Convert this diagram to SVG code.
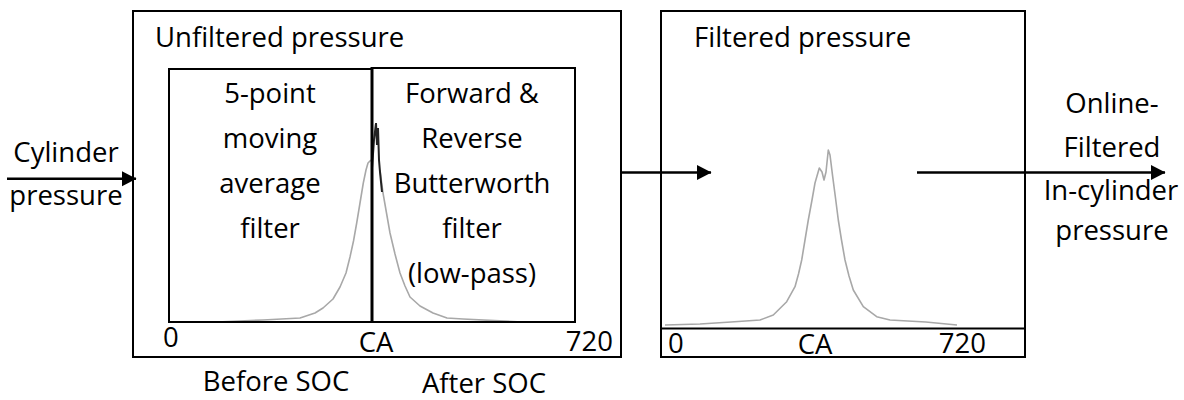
<svg xmlns="http://www.w3.org/2000/svg" width="1184" height="400" viewBox="0 0 1184 400">
<style>
text{font-family:"Open Sans","Liberation Sans",sans-serif;font-size:27.5px;fill:#000}
.c{text-anchor:middle}
.box{fill:none;stroke:#000;stroke-width:2}
.curve{fill:none;stroke:#a8a8a8;stroke-width:1.6;stroke-linejoin:round}
.arr{stroke:#000;stroke-width:2.5;fill:none}
</style>
<defs>
<marker id="ah" markerUnits="userSpaceOnUse" markerWidth="16" markerHeight="16" refX="14" refY="8" orient="auto"><path d="M0,0.5 L14.5,8 L0,15.5 Z" fill="#000"/></marker>
</defs>
<rect width="1184" height="400" fill="#fff"/>
<g id="input-label">
<text class="c" x="66" y="162">Cylinder</text>
<text class="c" x="66" y="205">pressure</text>
</g>
<g id="unfiltered">
<rect class="box" x="133" y="11" width="488" height="346"/>
<text x="155" y="47">Unfiltered pressure</text>
<polyline class="curve" points="217,322 263,320 300,318 315,313 323,308 333,299 340,287 346,273 350,257 353.5,241 356.7,223 360,203 363.3,183 366,170 368,163 371,160"/>
<polyline class="curve" points="380,170 383,193 386.5,213 390,233 395,254 400,273 405,286 410,297 420,306 433,313 447,318 463,319 522,322"/>
<path d="M372,168 L374,140 L376,123 L377,145 L378,128 L379,160 L380,172 L382,192" fill="none" stroke="#222" stroke-width="2"/>
<text x="163" y="347">0</text>
<text class="c" x="376" y="352">CA</text>
<text x="613" y="351" text-anchor="end">720</text>
</g>
<g id="moving-average">
<rect class="box" x="169" y="69" width="203" height="253"/>
<text class="c" x="270" y="103">5-point</text>
<text class="c" x="270" y="148">moving</text>
<text class="c" x="270" y="193">average</text>
<text class="c" x="270" y="238">filter</text>
</g>
<g id="butterworth">
<rect class="box" x="372" y="68" width="203" height="254"/>
<line x1="372" y1="67" x2="372" y2="323" stroke="#000" stroke-width="3"/>
<text class="c" x="472" y="103">Forward &amp;</text>
<text class="c" x="472" y="148">Reverse</text>
<text class="c" x="472" y="193">Butterworth</text>
<text class="c" x="472" y="238">filter</text>
<text class="c" x="472" y="283">(low-pass)</text>
</g>
<g id="soc-labels">
<text class="c" x="276" y="391">Before SOC</text>
<text class="c" x="484" y="393">After SOC</text>
</g>
<g id="filtered">
<rect class="box" x="661" y="11" width="364" height="346"/>
<line x1="661" y1="328.5" x2="1025" y2="328.5" stroke="#000" stroke-width="2"/>
<text x="694" y="47">Filtered pressure</text>
<polyline class="curve" points="665,325 700,324 731,322 760,320 773.3,315 786.7,301.7 795,286.7 798.5,274 801.7,260 805,240 808.3,220 812,200 815,183 819.3,168 822,172 824,180 826,172 828.3,150 830,155 832.7,176.7 835.5,198 838.3,220 841.5,240 845,260 849,276 853.3,290 863.3,306.7 876.7,316.7 890,320 925.7,322 957,325"/>
<text x="668" y="353">0</text>
<text class="c" x="815" y="354">CA</text>
<text x="986" y="353" text-anchor="end">720</text>
</g>
<g id="output-label">
<text class="c" x="1112" y="113">Online-</text>
<text class="c" x="1112" y="157">Filtered</text>
<text class="c" x="1111" y="200">In-cylinder</text>
<text class="c" x="1112" y="240">pressure</text>
</g>
<g id="connectors">
<line class="arr" x1="7" y1="178.7" x2="136" y2="178.7" marker-end="url(#ah)"/>
<line class="arr" x1="621" y1="172.5" x2="711" y2="172.5" marker-end="url(#ah)"/>
<line class="arr" x1="917" y1="172.5" x2="1165" y2="172.5" marker-end="url(#ah)"/>
</g>
</svg>
